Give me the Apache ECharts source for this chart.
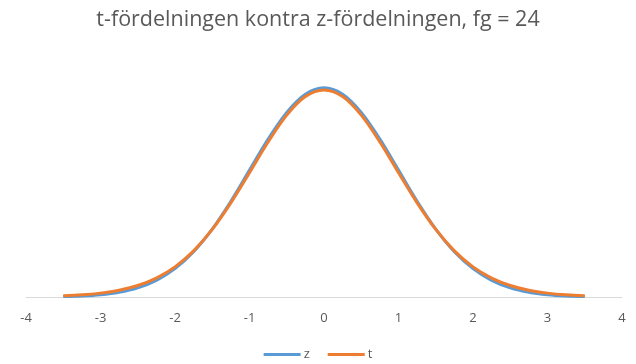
<!DOCTYPE html>
<html><head><meta charset="utf-8">
<script src="https://cdn.jsdelivr.net/npm/echarts@6/dist/echarts.min.js"></script>
<style>html,body{margin:0;padding:0;background:#fff}#c{width:636px;height:364px}</style>
</head><body><div id="c"></div>
<script>
var xValues = [-3.5,-3.25,-3,-2.75,-2.5,-2.25,-2,-1.75,-1.5,-1.25,-1,-0.75,-0.5,-0.25,0,0.25,0.5,0.75,1,1.25,1.5,1.75,2,2.25,2.5,2.75,3,3.25,3.5];
var zValues = [0.0009,0.0020,0.0044,0.0091,0.0175,0.0317,0.0540,0.0863,0.1295,0.1826,0.2420,0.3011,0.3521,0.3867,0.3989,0.3867,0.3521,0.3011,0.2420,0.1826,0.1295,0.0863,0.0540,0.0317,0.0175,0.0091,0.0044,0.0020,0.0009];
var tValues = [0.0023,0.0041,0.0074,0.0129,0.0219,0.0361,0.0575,0.0880,0.1288,0.1795,0.2370,0.2955,0.3468,0.3822,0.3948,0.3822,0.3468,0.2955,0.2370,0.1795,0.1288,0.0880,0.0575,0.0361,0.0219,0.0129,0.0074,0.0041,0.0023];
var xTicks = [-4,-3,-2,-1,0,1,2,3,4];
var titleText = 't-fördelningen kontra z-fördelningen, fg = 24';

function pairs(ys){ return xValues.map(function(x,i){ return [x, ys[i]]; }); }
var chart = echarts.init(document.getElementById('c'), null, {renderer:'canvas'});
chart.setOption({
  animation:false,
  textStyle:{fontFamily:'Open Sans, Liberation Sans, sans-serif'},
  title:{text:titleText,left:'center',top:4,textStyle:{fontSize:21.5,fontWeight:'normal',color:'#595959',fontFamily:'Open Sans, Liberation Sans, sans-serif'}},
  grid:{left:26,right:14,top:61,bottom:67,containLabel:false},
  legend:{bottom:-2,left:'center',icon:'rect',itemWidth:37,itemHeight:3,itemGap:18,
    textStyle:{color:'#595959',fontSize:13,padding:[0,0,0,-2]},data:['z','t']},
  xAxis:{type:'value',min:xTicks[0],max:xTicks[xTicks.length-1],interval:1,
    axisLine:{lineStyle:{color:'#D9D9D9',width:1}},axisTick:{show:false},splitLine:{show:false},
    axisLabel:{color:'#595959',fontSize:13,margin:15}},
  yAxis:{type:'value',min:0,max:0.45,show:false,splitLine:{show:false}},
  series:[
    {name:'z',type:'line',smooth:0.35,showSymbol:false,data:pairs(zValues),lineStyle:{color:'#5B9BD5',width:3},itemStyle:{color:'#5B9BD5'}},
    {name:'t',type:'line',smooth:0.35,showSymbol:false,data:pairs(tValues),lineStyle:{color:'#ED7D31',width:3},itemStyle:{color:'#ED7D31'}}
  ]
});
</script></body></html>
